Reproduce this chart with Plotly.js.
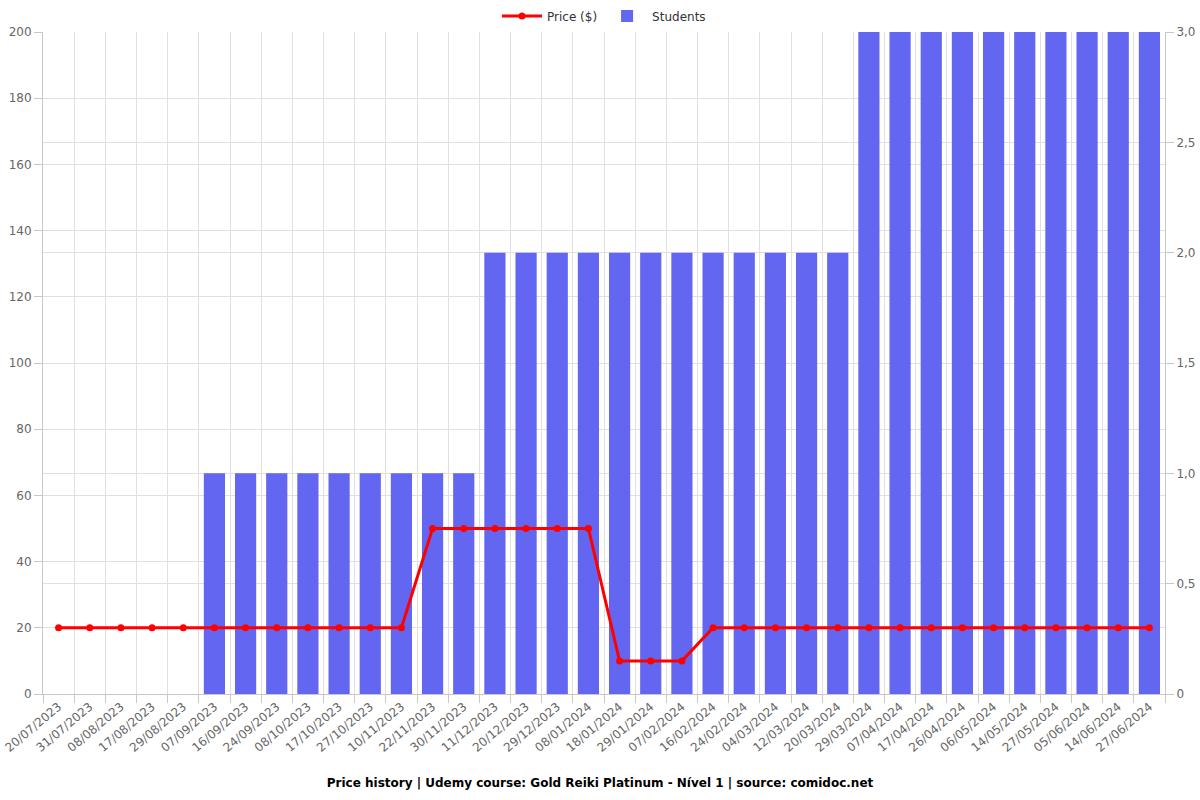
<!DOCTYPE html>
<html>
<head>
<meta charset="utf-8">
<script src="https://cdn.plot.ly/plotly-3.0.1.min.js"></script>
<style>html,body{margin:0;padding:0;background:#fff;}#chart{width:1200px;height:800px;}</style>
</head>
<body>
<div id="chart"></div>
<script>
const dates = ["20/07/2023","31/07/2023","08/08/2023","17/08/2023","29/08/2023","07/09/2023","16/09/2023","24/09/2023","08/10/2023","17/10/2023","27/10/2023","10/11/2023","22/11/2023","30/11/2023","11/12/2023","20/12/2023","29/12/2023","08/01/2024","18/01/2024","29/01/2024","07/02/2024","16/02/2024","24/02/2024","04/03/2024","12/03/2024","20/03/2024","29/03/2024","07/04/2024","17/04/2024","26/04/2024","06/05/2024","14/05/2024","27/05/2024","05/06/2024","14/06/2024","27/06/2024"];
const price = [20,20,20,20,20,20,20,20,20,20,20,20,50,50,50,50,50,50,10,10,10,20,20,20,20,20,20,20,20,20,20,20,20,20,20,20];
const students = [0,0,0,0,0,1,1,1,1,1,1,1,1,1,2,2,2,2,2,2,2,2,2,2,2,2,3,3,3,3,3,3,3,3,3,3];
const priceTicks = [0,20,40,60,80,100,120,140,160,180,200];
const studentTicks = [0,0.5,1,1.5,2,2.5,3];
const studentTickText = ["0","0,5","1,0","1,5","2,0","2,5","3,0"];

const font = {family: "DejaVu Sans, sans-serif", size: 12, color: "#666"};
const gridColor = "#e0e0e0";
const axisColor = "#c8c8c8";

const priceTrace = {
  type: "scatter", mode: "lines+markers", name: "Price ($)",
  x: dates, y: price, xaxis: "x", yaxis: "y2",
  line: {color: "#ff0000", width: 3},
  marker: {color: "#ff0000", size: 7}
};
const studentTrace = {
  type: "bar", name: "Students",
  x: dates, y: students, xaxis: "x", yaxis: "y",
  width: 0.68,
  marker: {color: "#6366f1", line: {width: 0}}
};

const layout = {
  width: 1200, height: 800,
  paper_bgcolor: "#fff", plot_bgcolor: "#fff",
  separators: ",.",
  font: font,
  margin: {l: 43, r: 35, t: 32, b: 106},
  title: {
    text: "<b>Price history | Udemy course: Gold Reiki Platinum - Nível 1 | source: comidoc.net</b>",
    font: {family: "DejaVu Sans, sans-serif", size: 12, color: "#000"},
    x: 0.5, xanchor: "center", y: 1 - 783/800, yanchor: "middle", yref: "container"
  },
  showlegend: true,
  legend: {
    orientation: "h", x: 0.5, xanchor: "center", y: 1 - 16/800, yanchor: "middle", yref: "container",
    font: {family: "DejaVu Sans, sans-serif", size: 12, color: "#333"},
    traceorder: "normal", itemwidth: 40
  },
  xaxis: {
    type: "category", tickangle: -40, tickfont: font,
    tickson: "boundaries", ticks: "outside", ticklen: 8, tickcolor: axisColor,
    showgrid: true, gridcolor: gridColor, gridwidth: 1,
    showline: true, linecolor: axisColor, linewidth: 1,
    range: [-0.5, dates.length - 0.5]
  },
  yaxis: {
    side: "right", range: [0, 3], tickvals: studentTicks, ticktext: studentTickText, tickfont: font,
    ticks: "outside", ticklen: 8, tickcolor: axisColor,
    showgrid: true, gridcolor: gridColor, gridwidth: 1,
    showline: true, linecolor: axisColor, linewidth: 1, zeroline: false
  },
  yaxis2: {
    overlaying: "y", side: "left", range: [0, 200], tickvals: priceTicks, tickfont: font,
    ticks: "outside", ticklen: 8, tickcolor: axisColor,
    showgrid: true, gridcolor: gridColor, gridwidth: 1,
    showline: true, linecolor: axisColor, linewidth: 1, zeroline: false
  }
};

Plotly.newPlot("chart", [priceTrace, studentTrace], layout, {displayModeBar: false, staticPlot: true});
</script>
</body>
</html>
